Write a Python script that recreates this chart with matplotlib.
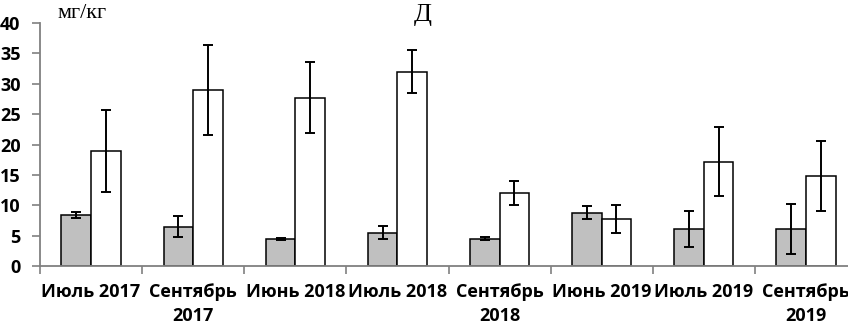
import numpy as np
import matplotlib
matplotlib.use("Agg")
import matplotlib.pyplot as plt

# categories and values
categories = ["Июль 2017", "Сентябрь\n2017", "Июнь 2018", "Июль 2018",
              "Сентябрь\n2018", "Июнь 2019", "Июль 2019", "Сентябрь\n2019"]
gray_vals = [8.4, 6.5, 4.5, 5.5, 4.5, 8.8, 6.1, 6.1]
gray_err = [0.5, 1.7, 0.15, 1.1, 0.3, 1.0, 3.0, 4.1]
white_vals = [18.9, 29.0, 27.7, 32.0, 12.0, 7.7, 17.2, 14.8]
white_err = [6.8, 7.4, 5.8, 3.55, 2.0, 2.3, 5.7, 5.7]
yticks = [0, 5, 10, 15, 20, 25, 30, 35, 40]

W, H = 848, 326
fig = plt.figure(figsize=(W / 100, H / 100), dpi=100)
ax = fig.add_axes([40 / W, 60 / H, 817 / W, 243 / H])

x = np.arange(len(categories))
bw = 0.29
err_kw = dict(ecolor="black", elinewidth=1.4, capsize=3.6, capthick=1.4)
ax.bar(x - bw / 2, gray_vals, bw, yerr=gray_err, color="#c0c0c0",
       edgecolor="black", linewidth=1.1, error_kw=err_kw, zorder=2)
ax.bar(x + bw / 2, white_vals, bw, yerr=white_err, color="white",
       edgecolor="black", linewidth=1.1, error_kw=err_kw, zorder=2)

ax.set_xlim(-0.5, len(categories) - 0.5)
ax.set_ylim(0, 40)

tick_font = dict(family=["Open Sans", "DejaVu Sans"], weight="bold", size=13)
ax.set_yticks(yticks)
ax.set_yticklabels([str(v) for v in yticks], **tick_font)
ax.set_xticks(x)
ax.set_xticklabels(categories, linespacing=1.45, **tick_font)
ax.set_xticks(np.arange(len(categories) + 1) - 0.5, minor=True)
ax.tick_params(axis="x", which="major", length=0, pad=12)
ax.tick_params(axis="x", which="minor", length=6, width=1.2, color="#808080",
               direction="out")
ax.tick_params(axis="y", length=6, width=1.2, color="#808080", pad=8)

for side in ["top", "right"]:
    ax.spines[side].set_visible(False)
for side in ["left", "bottom"]:
    ax.spines[side].set_color("#808080")
    ax.spines[side].set_linewidth(1.3)

fig.text(82 / W, 1 - 13 / H, "мг/кг", family="Liberation Serif", size=16,
         ha="center", va="center")
fig.text(423 / W, 1 - 15 / H, "Д", family="Liberation Serif", size=19,
         ha="center", va="center")

fig.savefig("out.png", dpi=100)
